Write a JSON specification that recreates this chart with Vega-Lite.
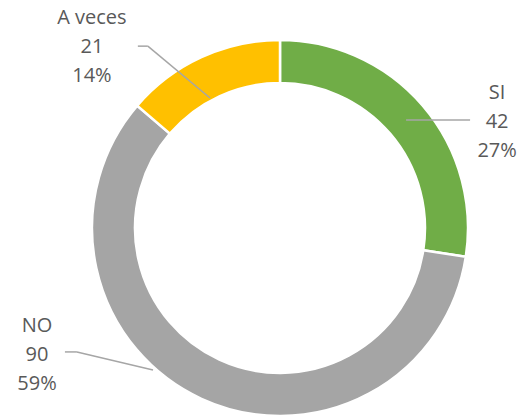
{
  "$schema": "https://vega.github.io/schema/vega-lite/v6.json",
  "width": 490,
  "height": 378,
  "autosize": "none",
  "padding": {"left": 35, "top": 39, "right": 0, "bottom": 0},
  "background": "white",
  "view": {"stroke": null},
  "data": {"values": [
    {"cat": "SI", "value": 42},
    {"cat": "NO", "value": 90},
    {"cat": "A veces", "value": 21}
  ]},
  "transform": [
    {"calculate": "indexof(['SI','NO','A veces'], datum.cat)", "as": "ord"},
    {"joinaggregate": [{"op": "sum", "field": "value", "as": "total"}]},
    {"window": [{"op": "sum", "field": "value", "as": "cum"}], "sort": [{"field": "ord"}], "frame": [null, 0]},
    {"calculate": "(datum.cum - datum.value/2)/datum.total*2*PI", "as": "mid"},
    {"calculate": "datum.cat + '\\n' + datum.value + '\\n' + format(datum.value/datum.total, '.0%')", "as": "label"},
    {"calculate": "datum.cat=='SI' ? 166 : datum.cat=='NO' ? 190.5 : 147.6", "as": "rs"},
    {"calculate": "datum.cat=='SI' ? 0 : datum.cat=='NO' ? 17.1 : -3.6", "as": "ds"},
    {"calculate": "datum.cat=='SI' ? 218.6 : datum.cat=='NO' ? 237.9 : 224.8", "as": "re"},
    {"calculate": "datum.cat=='SI' ? 11 : datum.cat=='NO' ? 33.9 : -11.3", "as": "de"},
    {"calculate": "datum.cat=='SI' ? 0 : datum.cat=='NO' ? -12 : -10", "as": "hx"},
    {"calculate": "datum.cat=='SI' ? 241.5 : datum.cat=='NO' ? 274.2 : 261", "as": "rl"},
    {"calculate": "datum.cat=='SI' ? 14.6 : datum.cat=='NO' ? 37.7 : -21.4", "as": "dl"},
    {"calculate": "datum.rs*sin(datum.mid + datum.ds*PI/180)", "as": "sx"},
    {"calculate": "datum.rs*cos(datum.mid + datum.ds*PI/180)", "as": "sy"},
    {"calculate": "datum.re*sin(datum.mid + datum.de*PI/180)", "as": "ex"},
    {"calculate": "datum.re*cos(datum.mid + datum.de*PI/180)", "as": "ey"},
    {"calculate": "datum.ex + datum.hx", "as": "hx2"},
    {"calculate": "datum.rl*sin(datum.mid + datum.dl*PI/180)", "as": "lx"},
    {"calculate": "datum.rl*cos(datum.mid + datum.dl*PI/180)", "as": "ly"}
  ],
  "layer": [
    {
      "mark": {"type": "arc", "innerRadius": 145, "outerRadius": 188, "stroke": "white", "strokeWidth": 2.5},
      "encoding": {
        "theta": {"field": "value", "type": "quantitative", "stack": true},
        "color": {"field": "cat", "type": "nominal", "scale": {"domain": ["SI", "NO", "A veces"], "range": ["#70AD47", "#A5A5A5", "#FFC000"]}, "legend": null},
        "order": {"field": "ord", "type": "quantitative"}
      }
    },
    {
      "mark": {"type": "rule", "color": "#A6A6A6", "strokeWidth": 1.5},
      "encoding": {
        "x": {"field": "sx", "type": "quantitative", "scale": {"domain": [-245, 245], "nice": false, "zero": false}, "axis": null},
        "y": {"field": "sy", "type": "quantitative", "scale": {"domain": [-189, 189], "nice": false, "zero": false}, "axis": null},
        "x2": {"field": "ex"},
        "y2": {"field": "ey"}
      }
    },
    {
      "mark": {"type": "rule", "color": "#A6A6A6", "strokeWidth": 1.5},
      "encoding": {
        "x": {"field": "ex", "type": "quantitative", "scale": {"domain": [-245, 245], "nice": false, "zero": false}, "axis": null},
        "y": {"field": "ey", "type": "quantitative", "scale": {"domain": [-189, 189], "nice": false, "zero": false}, "axis": null},
        "x2": {"field": "hx2"},
        "y2": {"field": "ey"}
      }
    },
    {
      "mark": {"type": "text", "align": "center", "baseline": "middle", "lineBreak": "\n", "lineHeight": 29, "dy": -29, "fontSize": 20, "font": "Open Sans", "color": "#595959"},
      "encoding": {
        "x": {"field": "lx", "type": "quantitative", "scale": {"domain": [-245, 245], "nice": false, "zero": false}, "axis": null},
        "y": {"field": "ly", "type": "quantitative", "scale": {"domain": [-189, 189], "nice": false, "zero": false}, "axis": null},
        "text": {"field": "label"}
      }
    }
  ]
}
